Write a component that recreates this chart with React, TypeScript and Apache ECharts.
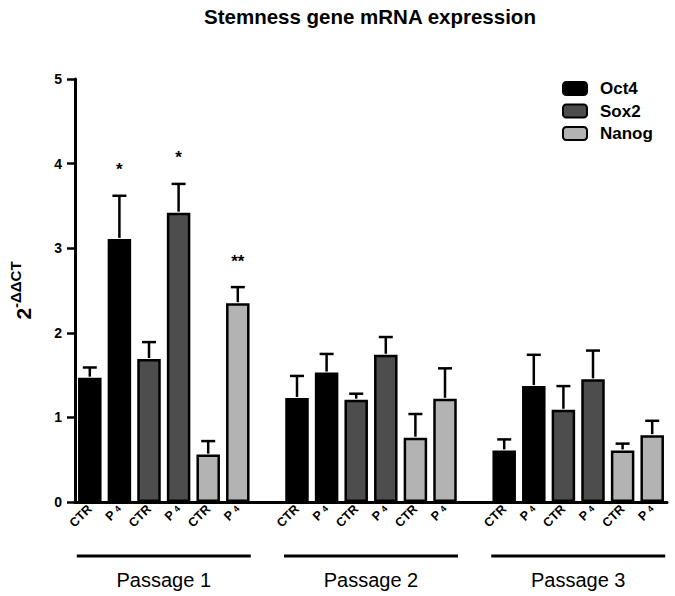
import { useEffect, useRef } from 'react'
import * as echarts from 'echarts'

const FONT = '"Liberation Sans", Arial, sans-serif'

const passages = ['Passage 1', 'Passage 2', 'Passage 3']
const genes = ['Oct4', 'Sox2', 'Nanog']
const conditions = ['CTR', 'P4']
const geneColors = ['#000000', '#4d4d4d', '#b3b3b3']

// values per passage as [CTR, P4]
const oct4Mean = [[1.47, 3.11], [1.23, 1.53], [0.61, 1.37]]
const oct4Sem = [[0.12, 0.51], [0.26, 0.22], [0.13, 0.37]]
const sox2Mean = [[1.69, 3.42], [1.21, 1.74], [1.09, 1.45]]
const sox2Sem = [[0.2, 0.34], [0.07, 0.21], [0.28, 0.34]]
const nanogMean = [[0.56, 2.35], [0.76, 1.22], [0.61, 0.79]]
const nanogSem = [[0.16, 0.19], [0.28, 0.36], [0.08, 0.17]]
// significance marks of P4 vs CTR, per passage, per gene
const significance = [['*', '*', '**'], ['', '', ''], ['', '', '']]

const yTicks = [0, 1, 2, 3, 4, 5]

const means = [oct4Mean, sox2Mean, nanogMean]
const sems = [oct4Sem, sox2Sem, nanogSem]

interface Slot {
  cond: string
  gene: number
  mean: number
  sem: number
  sig: string
}

// one category per bar, with an empty category between passages
const slots: (Slot | null)[] = []
const passageRanges: number[][] = []
passages.forEach((_, pi) => {
  if (pi > 0) slots.push(null)
  const start = slots.length
  genes.forEach((_, gi) => {
    conditions.forEach((cond, ci) => {
      slots.push({
        cond,
        gene: gi,
        mean: means[gi][pi][ci],
        sem: sems[gi][pi][ci],
        sig: ci === 1 ? significance[pi][gi] : ''
      })
    })
  })
  passageRanges.push([start, slots.length - 1, 0])
})

const categories = slots.map(s => (s ? s.cond : ''))
const errData: number[][] = []
const errSig: string[] = []
slots.forEach((s, i) => {
  if (!s) return
  errData.push([i, s.mean, s.mean + s.sem])
  errSig.push(s.sig)
})

export default function App() {
  const chartRef = useRef<HTMLDivElement>(null)

  useEffect(() => {
    if (!chartRef.current) return
    const chart = echarts.init(chartRef.current, undefined, { renderer: 'svg' })

    const barSeries: any[] = genes.map((name, gi) => ({
      name,
      type: 'bar',
      barWidth: 23.5,
      barGap: '-100%',
      itemStyle: { color: geneColors[gi], borderColor: '#000', borderWidth: 2.5 },
      data: slots.map(s => (s && s.gene === gi ? s.mean : '-'))
    }))

    const option: any = {
      animation: false,
      title: {
        text: 'Stemness gene mRNA expression',
        left: 199,
        top: 1,
        textStyle: { fontFamily: FONT, fontSize: 20.5, fontWeight: 'bold', color: '#000' }
      },
      legend: {
        data: genes,
        orient: 'vertical',
        left: 562,
        top: 80,
        padding: 0,
        itemWidth: 24,
        itemHeight: 13,
        itemGap: 5.5,
        selectedMode: false,
        textStyle: {
          fontFamily: FONT,
          fontSize: 17,
          fontWeight: 'bold',
          color: '#000',
          padding: [0, 0, 0, 8]
        }
      },
      grid: { left: 66, right: 8, top: 79, bottom: 94, containLabel: false },
      xAxis: {
        type: 'category',
        data: categories,
        boundaryGap: true,
        axisLine: { lineStyle: { color: '#000', width: 3 } },
        axisTick: { show: false },
        axisLabel: {
          interval: 0,
          rotate: 45,
          margin: 5,
          formatter: (v: string) => (v === 'P4' ? '{p|P }{s|4}' : v ? '{c|' + v + '}' : ''),
          rich: {
            c: { fontFamily: FONT, fontSize: 12.5, fontWeight: 'bold', color: '#000' },
            p: { fontFamily: FONT, fontSize: 12.5, fontWeight: 'bold', color: '#000' },
            s: { fontFamily: FONT, fontSize: 9, fontWeight: 'bold', color: '#000' }
          }
        }
      },
      yAxis: {
        type: 'value',
        min: yTicks[0],
        max: yTicks[yTicks.length - 1],
        interval: 1,
        name: '{a|2}{b|-ΔΔCT}',
        nameLocation: 'middle',
        nameGap: 41,
        nameTextStyle: {
          rich: {
            a: { fontFamily: FONT, fontSize: 21, fontWeight: 'bold', color: '#000', verticalAlign: 'bottom', lineHeight: 26 },
            b: { fontFamily: FONT, fontSize: 15, fontWeight: 'bold', color: '#000', verticalAlign: 'top', lineHeight: 26 }
          }
        },
        axisLine: { show: true, lineStyle: { color: '#000', width: 3 } },
        axisTick: { show: true, length: 8, lineStyle: { color: '#000', width: 2.5 } },
        axisLabel: { margin: 13, fontFamily: FONT, fontSize: 14, fontWeight: 'bold', color: '#000' },
        splitLine: { show: false }
      },
      series: [
        ...barSeries,
        {
          name: 'error',
          type: 'custom',
          z: 5,
          encode: { x: 0, y: [1, 2] },
          data: errData,
          renderItem: (params: any, api: any) => {
            const x = api.value(0)
            const base = api.coord([x, api.value(1)])
            const top = api.coord([x, api.value(2)])
            const children: any[] = [
              { type: 'line', shape: { x1: top[0], y1: base[1] - 1, x2: top[0], y2: top[1] }, style: { stroke: '#000', lineWidth: 2.5 } },
              { type: 'line', shape: { x1: top[0] - 7, y1: top[1], x2: top[0] + 7, y2: top[1] }, style: { stroke: '#000', lineWidth: 2.5 } }
            ]
            const sig = errSig[params.dataIndex]
            if (sig) {
              children.push({
                type: 'text',
                style: {
                  text: sig,
                  x: top[0],
                  y: top[1] - 26,
                  fill: '#000',
                  font: 'bold 17px ' + FONT,
                  align: 'center',
                  verticalAlign: 'middle'
                }
              })
            }
            return { type: 'group', children }
          }
        },
        {
          name: 'passage',
          type: 'custom',
          z: 5,
          encode: { x: [0, 1], y: 2 },
          data: passageRanges,
          renderItem: (params: any, api: any) => {
            const a = api.coord([api.value(0), 0])
            const b = api.coord([api.value(1), 0])
            const y = a[1] + 54
            return {
              type: 'group',
              children: [
                { type: 'line', shape: { x1: a[0] - 13, y1: y, x2: b[0] + 13, y2: y }, style: { stroke: '#000', lineWidth: 3 } },
                {
                  type: 'text',
                  style: {
                    text: passages[params.dataIndex],
                    x: (a[0] + b[0]) / 2,
                    y: a[1] + 78,
                    fill: '#000',
                    font: '20px ' + FONT,
                    align: 'center',
                    verticalAlign: 'middle'
                  }
                }
              ]
            }
          }
        }
      ]
    }

    chart.setOption(option)
    return () => {
      chart.dispose()
    }
  }, [])

  return (
    <div
      ref={chartRef}
      style={{ position: 'fixed', left: 0, top: 0, width: '675px', height: '596px', background: '#fff' }}
    />
  )
}
